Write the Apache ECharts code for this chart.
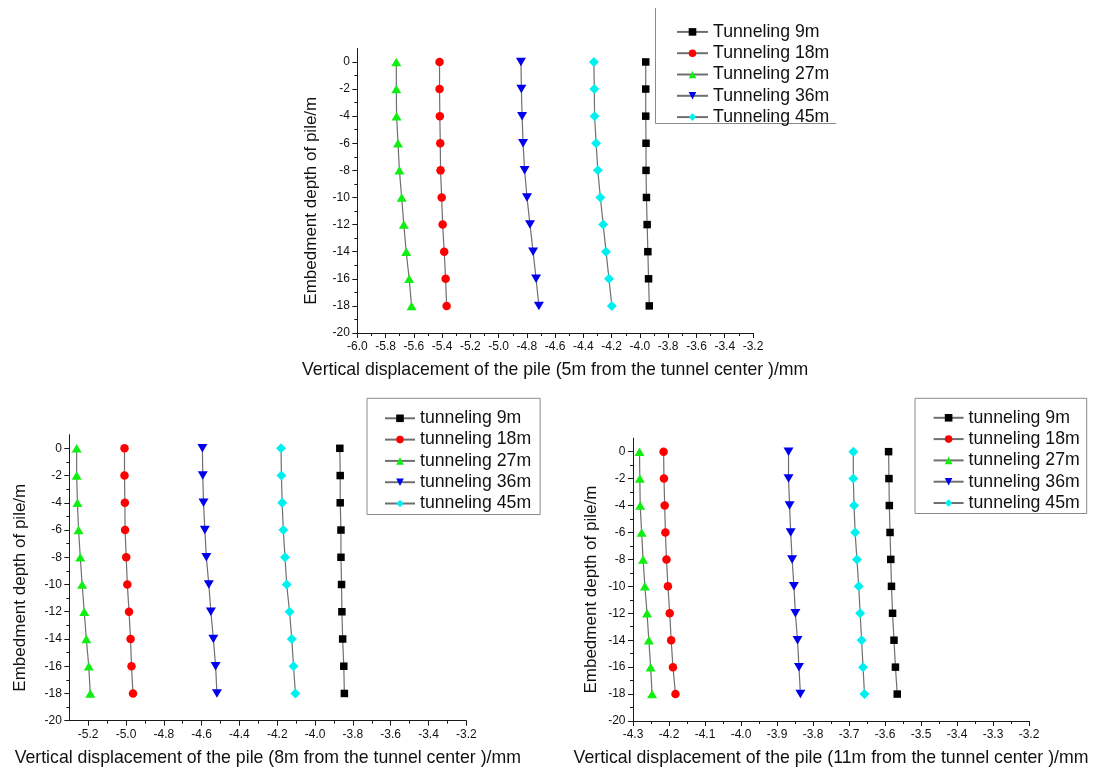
<!DOCTYPE html>
<html><head><meta charset="utf-8">
<script src="https://cdn.jsdelivr.net/npm/echarts@6/dist/echarts.min.js"></script>
<style>html,body{margin:0;padding:0;background:#fff}#c{width:1097px;height:771px}</style>
</head><body><div id="c"></div>
<script>
// ---------- data ----------
const depth = [0, -2, -4, -6, -8, -10, -12, -14, -16, -18];

const namesTop = ['Tunneling 9m', 'Tunneling 18m', 'Tunneling 27m', 'Tunneling 36m', 'Tunneling 45m'];
const namesBottom = ['tunneling 9m', 'tunneling 18m', 'tunneling 27m', 'tunneling 36m', 'tunneling 45m'];

// 5 m from the tunnel centre
const top9  = [-3.959, -3.959, -3.959, -3.957, -3.957, -3.954, -3.949, -3.944, -3.939, -3.934];
const top18 = [-5.418, -5.418, -5.416, -5.413, -5.411, -5.403, -5.396, -5.385, -5.375, -5.368];
const top27 = [-5.724, -5.724, -5.722, -5.712, -5.702, -5.686, -5.671, -5.654, -5.633, -5.616];
const top36 = [-4.842, -4.839, -4.834, -4.827, -4.816, -4.799, -4.778, -4.756, -4.735, -4.715];
const top45 = [-4.326, -4.323, -4.321, -4.310, -4.298, -4.280, -4.260, -4.240, -4.219, -4.199];

// 8 m from the tunnel centre
const bl9  = [-3.869, -3.867, -3.867, -3.863, -3.863, -3.860, -3.858, -3.854, -3.848, -3.845];
const bl18 = [-5.008, -5.008, -5.006, -5.005, -4.999, -4.993, -4.984, -4.976, -4.971, -4.963];
const bl27 = [-5.261, -5.261, -5.257, -5.251, -5.242, -5.232, -5.221, -5.210, -5.197, -5.189];
const bl36 = [-4.596, -4.594, -4.590, -4.583, -4.575, -4.562, -4.551, -4.538, -4.526, -4.519];
const bl45 = [-4.180, -4.178, -4.174, -4.168, -4.159, -4.150, -4.135, -4.123, -4.114, -4.104];

// 11 m from the tunnel centre
const br9  = [-3.590, -3.589, -3.588, -3.586, -3.584, -3.582, -3.579, -3.575, -3.571, -3.566];
const br18 = [-4.215, -4.214, -4.212, -4.210, -4.207, -4.203, -4.198, -4.194, -4.189, -4.182];
const br27 = [-4.282, -4.281, -4.280, -4.276, -4.272, -4.267, -4.261, -4.256, -4.251, -4.247];
const br36 = [-3.868, -3.868, -3.865, -3.862, -3.858, -3.853, -3.849, -3.843, -3.839, -3.835];
const br45 = [-3.688, -3.688, -3.686, -3.683, -3.678, -3.673, -3.669, -3.665, -3.661, -3.657];

// tick values
const topXTicks = [-6.0, -5.8, -5.6, -5.4, -5.2, -5.0, -4.8, -4.6, -4.4, -4.2, -4.0, -3.8, -3.6, -3.4, -3.2];
const topXMinor = [-5.9, -5.7, -5.5, -5.3, -5.1, -4.9, -4.7, -4.5, -4.3, -4.1, -3.9, -3.7, -3.5, -3.3];
const blXTicks = [-5.2, -5.0, -4.8, -4.6, -4.4, -4.2, -4.0, -3.8, -3.6, -3.4, -3.2];
const blXMinor = [-5.1, -4.9, -4.7, -4.5, -4.3, -4.1, -3.9, -3.7, -3.5, -3.3];
const brXTicks = [-4.3, -4.2, -4.1, -4.0, -3.9, -3.8, -3.7, -3.6, -3.5, -3.4, -3.3, -3.2];
const brXMinor = [-4.25, -4.15, -4.05, -3.95, -3.85, -3.75, -3.65, -3.55, -3.45, -3.35, -3.25];
const yTicks = [-20, -18, -16, -14, -12, -10, -8, -6, -4, -2, 0];
const yMinor = [-19, -17, -15, -13, -11, -9, -7, -5, -3, -1];

const xTitleTop = 'Vertical displacement of the pile (5m from the tunnel center )/mm';
const xTitleBL = 'Vertical displacement of the pile (8m from the tunnel center )/mm';
const xTitleBR = 'Vertical displacement of the pile (11m from the tunnel center )/mm';
const yTitle = 'Embedment depth of pile/m';

// ---------- styles ----------
const FONT = '"Liberation Sans", Arial, sans-serif';
const markColors = ['#000000', '#ff0000', '#11ee11', '#0000ee', '#00f0f0'];
const markSymbols = ['rect', 'circle', 'triangle', 'path://M0,0L10,0L5,9Z', 'diamond'];
const markSizes = [7.5, 8.5, [10, 8.5], [10, 8.5], [10, 10]];

function makeSeries(gi, names, lists) {
  return lists.map((vals, i) => ({
    name: names[i],
    type: 'line',
    xAxisIndex: gi * 2,
    yAxisIndex: gi * 2,
    data: depth.map((d, k) => [vals[k], d]),
    symbol: markSymbols[i],
    symbolSize: markSizes[i],
    showAllSymbol: true,
    itemStyle: { color: markColors[i] },
    lineStyle: { color: '#6f6f6f', width: 1.2 },
    emphasis: { disabled: true },
    z: 3
  }));
}

const axisColor = '#1a1a1a';
function xAxes(gi, min, max, ticks, minor, title, gap) {
  return [{
    gridIndex: gi, type: 'value', min: min, max: max, position: 'bottom',
    axisLine: { show: true, onZero: false, lineStyle: { color: axisColor, width: 1 } },
    axisTick: { show: true, customValues: ticks, length: 5, lineStyle: { color: axisColor } },
    axisLabel: { customValues: ticks, formatter: v => v.toFixed(1), fontSize: 12, color: '#111', margin: 8, fontFamily: FONT },
    splitLine: { show: false },
    name: title, nameLocation: 'middle', nameGap: gap,
    nameTextStyle: { fontSize: 17.7, color: '#111', fontFamily: FONT }
  }, {
    gridIndex: gi, type: 'value', min: min, max: max, position: 'bottom',
    axisLine: { show: false, onZero: false },
    axisTick: { show: true, customValues: minor, length: 3, lineStyle: { color: axisColor } },
    axisLabel: { show: false }, splitLine: { show: false }
  }];
}
function yAxes(gi, gap) {
  return [{
    gridIndex: gi, type: 'value', min: -20, max: 1, position: 'left',
    axisLine: { show: true, onZero: false, lineStyle: { color: axisColor, width: 1 } },
    axisTick: { show: true, customValues: yTicks, length: 5, lineStyle: { color: axisColor } },
    axisLabel: { customValues: yTicks, formatter: v => String(Math.round(v)), fontSize: 12, color: '#111', margin: 7.5, fontFamily: FONT },
    splitLine: { show: false },
    name: yTitle, nameLocation: 'middle', nameGap: gap,
    nameTextStyle: { fontSize: 17, color: '#111', fontFamily: FONT, padding: [0, 20, 0, 0] }
  }, {
    gridIndex: gi, type: 'value', min: -20, max: 1, position: 'left',
    axisLine: { show: false, onZero: false },
    axisTick: { show: true, customValues: yMinor, length: 3, lineStyle: { color: axisColor } },
    axisLabel: { show: false }, splitLine: { show: false }
  }];
}

function legend(names, left, top, padding, itemWidth, border) {
  return {
    data: names, orient: 'vertical', left: left, top: top, padding: padding,
    itemWidth: itemWidth, itemHeight: 9.5, itemGap: 3.3,
    borderColor: border ? '#8a8a8a' : 'transparent', borderWidth: border ? 1 : 0,
    textStyle: { fontSize: 17.7, color: '#111', fontFamily: FONT },
    selectedMode: false
  };
}

const option = {
  animation: false,
  backgroundColor: '#ffffff',
  textStyle: { fontFamily: FONT },
  grid: [
    { left: 357.3, top: 48.4, width: 395.7, height: 284.6 },
    { left: 69.3, top: 434.7, width: 397, height: 286 },
    { left: 633, top: 438.2, width: 396, height: 282.8 }
  ],
  xAxis: [].concat(
    xAxes(0, -6.0, -3.2, topXTicks, topXMinor, xTitleTop, 28),
    xAxes(1, -5.3, -3.2, blXTicks, blXMinor, xTitleBL, 28),
    xAxes(2, -4.3, -3.2, brXTicks, brXMinor, xTitleBR, 28)
  ),
  yAxis: [].concat(yAxes(0, 37), yAxes(1, 40), yAxes(2, 33.5)),
  legend: [
    legend(namesTop, 655.7, 8, [14.9, 4, 1.5, 20.3], 31, false),
    legend(namesBottom, 367, 398.3, [11, 9, 2, 17], 30, true),
    legend(namesBottom, 915, 398.3, [10.5, 7, 1.5, 17.6], 30, true)
  ],
  graphic: [{
    type: 'polyline',
    shape: { points: [[655.5, 8], [655.5, 123.5], [836, 123.5]] },
    style: { stroke: '#8a8a8a', fill: null, lineWidth: 1 },
    silent: true
  }],
  series: [].concat(
    makeSeries(0, namesTop, [top9, top18, top27, top36, top45]),
    makeSeries(1, namesBottom, [bl9, bl18, bl27, bl36, bl45]),
    makeSeries(2, namesBottom, [br9, br18, br27, br36, br45])
  )
};

const chart = echarts.init(document.getElementById('c'), null, { renderer: 'canvas' });
chart.setOption(option);
</script>
</body></html>
